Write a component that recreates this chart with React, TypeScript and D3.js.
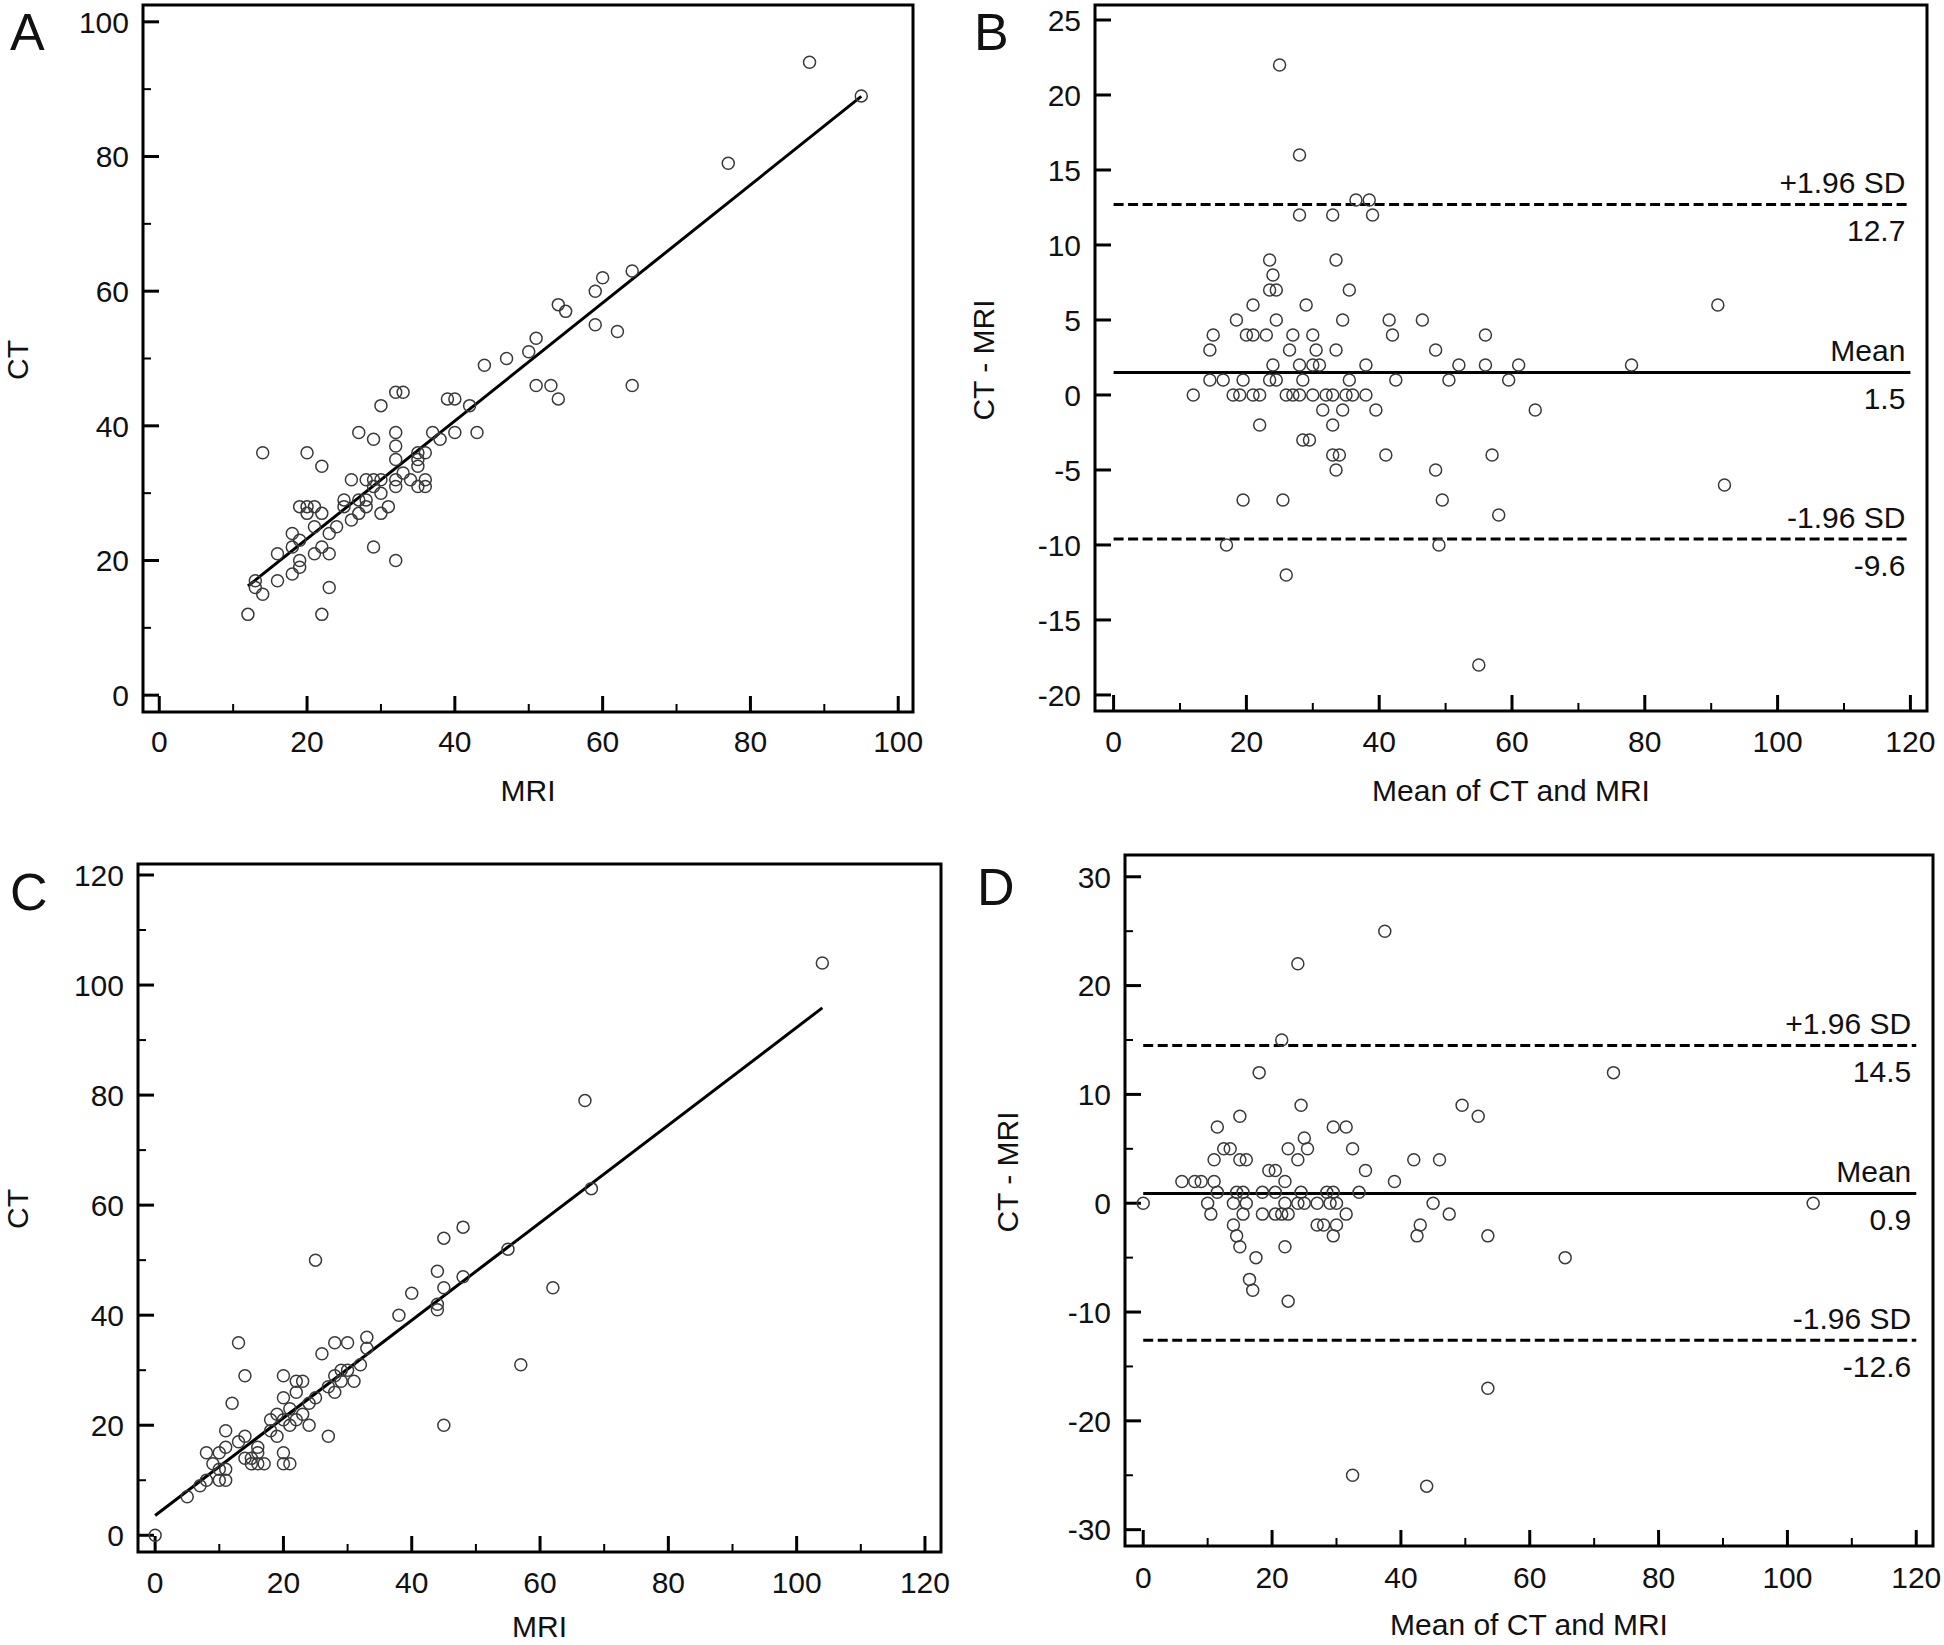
import React from 'react';
import * as d3 from 'd3';

// ---------- Panel A: CT vs MRI ----------
const aMRI = [12,13,13,14,14,16,16,18,18,18,19,19,19,19,20,20,20,21,21,21,22,22,22,22,23,23,23,24,25,25,26,26,27,27,28,28,28,27,29,29,29,29,30,30,30,30,31,32,33,32,32,32,32,32,32,33,34,35,35,35,35,36,36,36,37,38,39,40,40,42,43,44,47,50,51,51,53,54,54,55,59,60,59,62,64,64,77,88,95];
const aCT  = [12,17,16,15,36,21,17,24,22,18,23,20,19,28,28,27,36,28,25,21,27,22,34,12,24,21,16,25,29,28,32,26,27,29,32,29,28,39,38,32,31,22,32,43,30,27,28,45,45,39,37,35,32,31,20,33,32,36,35,34,31,36,32,31,39,38,44,44,39,43,39,49,50,51,53,46,46,44,58,57,60,62,55,54,63,46,79,94,89];
const aFitRange = [12, 95];
const aFitIntercept = 5.7;
const aFitSlope = 0.876;

// ---------- Panel B: Bland-Altman (first set) ----------
const bMean = [25,28,36.5,38.5,28,33,39,23.5,33.5,24,23.5,24.5,35.5,21,29,18.5,24.5,34.5,41.5,46.5,15,20,21,23,27,30,42,56,14.5,26.5,30.5,33.5,48.5,24,28,30,31,38,52,56,61,
  14.5,16.5,19.5,23.5,24.5,28.5,35.5,42.5,50.5,59.5,
  12,18,19,21,22,26,27,28,30,32,33,35,36,38,
  31.5,34.5,39.5,63.5,22,33,28.5,29.5,33,34,41,57,33.5,48.5,19.5,25.5,49.5,58,17,49,26,55,91,78,92];
const bDiff = [22,16,13,13,12,12,12,9,9,8,7,7,7,6,6,5,5,5,5,5,4,4,4,4,4,4,4,4,3,3,3,3,3,2,2,2,2,2,2,2,2,
  1,1,1,1,1,1,1,1,1,1,
  0,0,0,0,0,0,0,0,0,0,0,0,0,0,
  -1,-1,-1,-1,-2,-2,-3,-3,-4,-4,-4,-4,-5,-5,-7,-7,-7,-8,-10,-10,-12,-18,6,2,-6];
const bMeanDiff = 1.5;
const bUpper = 12.7;
const bLower = -9.6;

// ---------- Panel C: CT vs MRI (second set) ----------
const cMRI = [0,5,7,8,8,9,10,10,11,11,11,10,11,12,13,14,14,13,14,15,16,17,16,16,15,18,18,19,19,20,20,21,20,20,20,21,21,22,23,22,22,23,24,24,25,27,27,28,28,28,26,25,29,30,29,30,31,32,33,33,38,40,44,44,44,45,45,48,48,55,62,57,45,67,68,104];
const cCT  = [0,7,9,10,15,13,12,10,10,12,16,15,19,24,17,18,14,35,29,13,13,13,16,15,14,19,21,22,18,15,13,13,21,25,29,23,20,28,28,26,21,22,24,20,25,18,27,26,29,35,33,50,30,30,28,35,28,31,36,34,40,44,48,42,41,45,54,47,56,52,45,31,20,79,63,104];
const cFitRange = [0, 104];
const cFitIntercept = 3.6;
const cFitSlope = 0.887;

// ---------- Panel D: Bland-Altman (second set) ----------
const dMean = [24,37.5,21.5,18,24.5,15,49.5,52,11.5,29.5,31.5,25,25.5,22.5,24,32.5,12.5,13.5,11,15,16,42,46,19.5,20.5,34.5,6,8,9,11,22,39,
  11.5,14.5,15.5,18.5,20.5,24.5,28.5,29.5,33.5,
  0,10,14,16,22,24,25,27,29,30,45,
  10.5,15.5,18.5,20.5,21.5,22.5,31.5,47.5,
  14,27,28,30,43,14.5,29.5,42.5,53.5,
  15,22,17.5,16.5,17,22.5,65.5,53.5,32.5,44,73,104];
const dDiff = [22,25,15,12,9,8,9,8,7,7,7,6,5,5,4,5,5,5,4,4,4,4,4,3,3,3,2,2,2,2,2,2,
  1,1,1,1,1,1,1,1,1,
  0,0,0,0,0,0,0,0,0,0,0,
  -1,-1,-1,-1,-1,-1,-1,-1,
  -2,-2,-2,-2,-2,-3,-3,-3,-3,
  -4,-4,-5,-7,-8,-9,-5,-17,-25,-26,12,0];
const dMeanDiff = 0.9;
const dUpper = 14.5;
const dLower = -12.6;

// tick values
const aXTicks = [0,20,40,60,80,100];
const aXMinor = [10,30,50,70,90];
const aYTicks = [0,20,40,60,80,100];
const aYMinor = [10,30,50,70,90];
const bXTicks = [0,20,40,60,80,100,120];
const bXMinor = [10,30,50,70,90,110];
const bYTicks = [-20,-15,-10,-5,0,5,10,15,20,25];
const cXTicks = [0,20,40,60,80,100,120];
const cXMinor = [10,30,50,70,90,110];
const cYTicks = [0,20,40,60,80,100,120];
const cYMinor = [10,30,50,70,90,110];
const dXTicks = [0,20,40,60,80,100,120];
const dXMinor = [10,30,50,70,90,110];
const dYTicks = [-30,-20,-10,0,10,20,30];
const dYMinor = [-25,-15,-5,5,15,25];

const FONT = '"Liberation Sans", Arial, Helvetica, sans-serif';
const INK = '#111';

type LineSpec = { value: number; dashed: boolean; top: string; bottom: string };

type PanelProps = {
  letter: string; letterX: number; letterY: number;
  left: number; right: number; top: number; bottom: number;
  xDomain: [number, number]; yDomain: [number, number];
  xTicks: number[]; xMinor: number[]; yTicks: number[]; yMinor: number[];
  xs: number[]; ys: number[];
  xTitle: string; yTitle: string; xTitleY: number; yTitleX: number; yTitleY: number;
  xLabelY: number;
  fit?: { range: number[]; intercept: number; slope: number };
  hlines?: LineSpec[]; hlineRange?: [number, number];
};

function Panel(p: PanelProps) {
  const x = d3.scaleLinear().domain(p.xDomain).range([p.left, p.right]);
  const y = d3.scaleLinear().domain(p.yDomain).range([p.bottom, p.top]);
  const major = 16, minor = 8;
  const line = d3.line<number>().x(v => x(v)).y(v => y(p.fit ? p.fit.intercept + p.fit.slope * v : 0));
  return (
    <g>
      <text x={p.letterX} y={p.letterY} fontFamily={FONT} fontSize={52} fill={INK}>{p.letter}</text>
      <rect x={p.left} y={p.top} width={p.right - p.left} height={p.bottom - p.top} fill="none" stroke="#000" strokeWidth={3} />
      {p.xTicks.map(t => (
        <g key={'xt' + t}>
          <line x1={x(t)} x2={x(t)} y1={p.bottom} y2={p.bottom - major} stroke="#000" strokeWidth={3} />
          <text x={x(t)} y={p.xLabelY} textAnchor="middle" fontFamily={FONT} fontSize={30} fill={INK}>{t}</text>
        </g>
      ))}
      {p.xMinor.map(t => (
        <line key={'xm' + t} x1={x(t)} x2={x(t)} y1={p.bottom} y2={p.bottom - minor} stroke="#000" strokeWidth={2} />
      ))}
      {p.yTicks.map(t => (
        <g key={'yt' + t}>
          <line x1={p.left} x2={p.left + major} y1={y(t)} y2={y(t)} stroke="#000" strokeWidth={3} />
          <text x={p.left - 14} y={y(t)} dy="0.36em" textAnchor="end" fontFamily={FONT} fontSize={30} fill={INK}>{t}</text>
        </g>
      ))}
      {p.yMinor.map(t => (
        <line key={'ym' + t} x1={p.left} x2={p.left + minor} y1={y(t)} y2={y(t)} stroke="#000" strokeWidth={2} />
      ))}
      {p.fit && (
        <path d={line(p.fit.range) || ''} fill="none" stroke="#000" strokeWidth={3} />
      )}
      {p.hlines && p.hlineRange && p.hlines.map((h, i) => {
        const x0 = x(p.hlineRange![0]);
        const x1 = x(p.hlineRange![1]);
        const yy = y(h.value);
        return (
          <g key={'h' + i}>
            <line x1={x0} x2={x1} y1={yy} y2={yy} stroke="#000" strokeWidth={3} strokeDasharray={h.dashed ? '10,4.5' : undefined} />
            <text x={x1 - 5} y={yy - 11} textAnchor="end" fontFamily={FONT} fontSize={30} fill={INK}>{h.top}</text>
            <text x={x1 - 5} y={yy + 37} textAnchor="end" fontFamily={FONT} fontSize={30} fill={INK}>{h.bottom}</text>
          </g>
        );
      })}
      {p.xs.map((v, i) => (
        <circle key={'c' + i} cx={x(v)} cy={y(p.ys[i])} r={6} fill="none" stroke="#3a3a3a" strokeWidth={1.5} />
      ))}
      <text x={(p.left + p.right) / 2} y={p.xTitleY} textAnchor="middle" fontFamily={FONT} fontSize={30} fill={INK}>{p.xTitle}</text>
      <text transform={`translate(${p.yTitleX},${p.yTitleY}) rotate(-90)`} textAnchor="middle" dy="0.36em" fontFamily={FONT} fontSize={30} fill={INK}>{p.yTitle}</text>
    </g>
  );
}

export default function App() {
  return (
    <svg width={1944} height={1645} viewBox="0 0 1944 1645" style={{ position: 'absolute', left: 0, top: 0, background: '#fff' }}>
      <rect x={0} y={0} width={1944} height={1645} fill="#fff" />
      <Panel letter="A" letterX={10} letterY={50}
        left={143} right={913} top={5} bottom={712}
        xDomain={[-2.2, 102]} yDomain={[-2.5, 102.5]}
        xTicks={aXTicks} xMinor={aXMinor} yTicks={aYTicks} yMinor={aYMinor}
        xs={aMRI} ys={aCT} xTitle="MRI" yTitle="CT" xTitleY={801} yTitleX={17} yTitleY={360} xLabelY={752}
        fit={{ range: aFitRange, intercept: aFitIntercept, slope: aFitSlope }} />
      <Panel letter="B" letterX={974} letterY={50}
        left={1095} right={1927} top={5} bottom={711}
        xDomain={[-2.8, 122.5]} yDomain={[-21.07, 26]}
        xTicks={bXTicks} xMinor={bXMinor} yTicks={bYTicks} yMinor={[]}
        xs={bMean} ys={bDiff} xTitle="Mean of CT and MRI" yTitle="CT - MRI" xTitleY={801} yTitleX={983} yTitleY={360} xLabelY={752}
        hlineRange={[0, 120]}
        hlines={[
          { value: bUpper, dashed: true, top: '+1.96 SD', bottom: String(bUpper) },
          { value: bMeanDiff, dashed: false, top: 'Mean', bottom: String(bMeanDiff) },
          { value: bLower, dashed: true, top: '-1.96 SD', bottom: String(bLower) },
        ]} />
      <Panel letter="C" letterX={10} letterY={910}
        left={138} right={941} top={864} bottom={1552}
        xDomain={[-2.67, 122.5]} yDomain={[-3.04, 122]}
        xTicks={cXTicks} xMinor={cXMinor} yTicks={cYTicks} yMinor={cYMinor}
        xs={cMRI} ys={cCT} xTitle="MRI" yTitle="CT" xTitleY={1637} yTitleX={17} yTitleY={1209} xLabelY={1593}
        fit={{ range: cFitRange, intercept: cFitIntercept, slope: cFitSlope }} />
      <Panel letter="D" letterX={977} letterY={905}
        left={1125} right={1933} top={855} bottom={1546}
        xDomain={[-2.83, 122.6]} yDomain={[-31.5, 32]}
        xTicks={dXTicks} xMinor={dXMinor} yTicks={dYTicks} yMinor={dYMinor}
        xs={dMean} ys={dDiff} xTitle="Mean of CT and MRI" yTitle="CT - MRI" xTitleY={1635} yTitleX={1007} yTitleY={1172} xLabelY={1588}
        hlineRange={[0, 120]}
        hlines={[
          { value: dUpper, dashed: true, top: '+1.96 SD', bottom: String(dUpper) },
          { value: dMeanDiff, dashed: false, top: 'Mean', bottom: String(dMeanDiff) },
          { value: dLower, dashed: true, top: '-1.96 SD', bottom: String(dLower) },
        ]} />
    </svg>
  );
}
